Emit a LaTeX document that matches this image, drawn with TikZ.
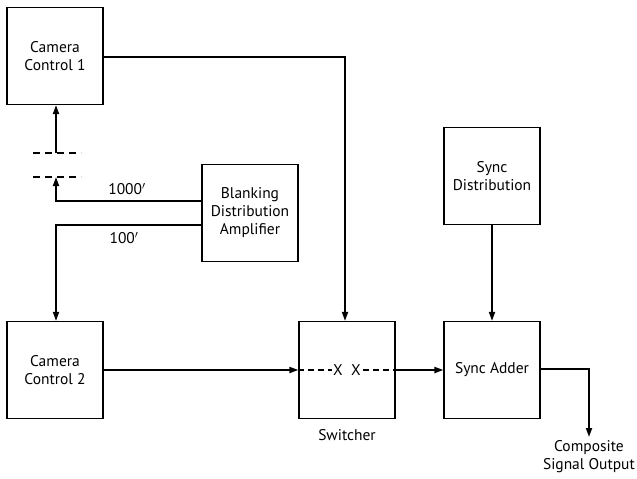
\documentclass[tikz,border=0pt]{standalone}
\usepackage{fontspec}
\setmainfont{PT Sans}
\usetikzlibrary{arrows.meta}
\begin{document}
\begin{tikzpicture}[x=1pt,y=-1pt,
  box/.style={draw,line width=1.2pt,minimum width=96pt,minimum height=97pt,align=center,inner sep=0pt,font=\fontsize{15.5}{18}\selectfont},
  wire/.style={line width=1.8pt},
  arr/.style={wire,-{Triangle[length=9pt,width=6pt]}},
  lbl/.style={font=\fontsize{15.5}{18}\selectfont,align=center,inner sep=0pt}]
\useasboundingbox (0,0) rectangle (637,479);
\node[box] (cc1) at (55,56) {Camera\\Control 1};
\node[box] (bda) at (250,213) {Blanking\\Distribution\\Amplifier};
\node[box] (cc2) at (55,370) {Camera\\Control 2};
\node[box] (sw) at (347,370) {};
\node[box] (sd) at (492,176) {Sync\\Distribution};
\node[box] (sa) at (492,370) {Sync Adder};
% dashed break on camera 1 link
\coordinate (b1) at (56,153);
\coordinate (b2) at (56,177);
\coordinate (c1) at (56,201);
\coordinate (c2) at (56,225);
\draw[line width=1.2pt,dash pattern=on 7pt off 5pt] (33,153) -- (81,153);
\draw[line width=1.2pt,dash pattern=on 7pt off 5pt] (33,177) -- (81,177);
\draw[arr] (b1) -- (b1 |- cc1.south);
\draw[arr] (bda.west |- c1) -- (c1) -- (b2);
\draw[arr] (bda.west |- c2) -- (c2) -- (c2 |- cc2.north);
\node[lbl] (l1000) at (127,189) {1000$'$};
\node[lbl] (l100) at (124,238) {100$'$};
% camera 1 to switcher
\coordinate (t1) at (345,57);
\draw[arr] (cc1.east |- t1) -- (t1) -- (t1 |- sw.north);
% camera 2 to switcher
\draw[arr] (cc2.east) -- (sw.west);
% switcher inside
\node[lbl] (x1) at (338,370) {X};
\node[lbl] (x2) at (356,370) {X};
\draw[line width=1.2pt,dash pattern=on 6pt off 4pt] (sw.west) -- ([xshift=-1pt]x1.west);
\draw[line width=1.2pt,dash pattern=on 6pt off 4pt] ([xshift=2pt]x2.east) -- (sw.east);
\node[lbl] (swl) at (347,435) {Switcher};
% switcher to adder
\draw[arr] (sw.east) -- (sa.west);
\draw[arr] (sd.south) -- (sa.north);
% output
\coordinate (o1) at (589,369);
\coordinate (o2) at (589,437);
\draw[arr] (sa.east |- o1) -- (o1) -- (o2);
\node[lbl,anchor=north east] (out) at (635,440) {Composite\\Signal Output};
\end{tikzpicture}
\end{document}
